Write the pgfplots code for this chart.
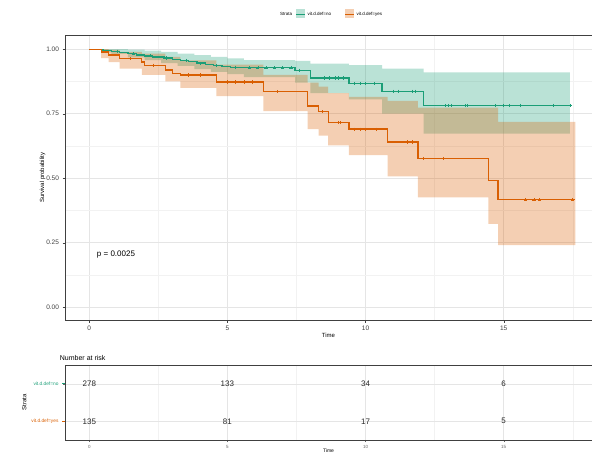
\documentclass[border=0pt]{standalone}
\usepackage{pgfplots}
\pgfplotsset{compat=1.18}
\usepgfplotslibrary{fillbetween}
\usepackage{fontspec}
\setmainfont{Liberation Sans}
\definecolor{cgreen}{HTML}{1B9E77}
\definecolor{corange}{HTML}{D95F02}
\begin{document}
\begin{tikzpicture}[x=1pt,y=1pt]
% ---------------- main survival panel ----------------
\begin{axis}[
  at={(65pt,136pt)}, anchor=south west,
  width=527pt, height=285pt, scale only axis,
  xmin=-0.88, xmax=18.2, ymin=-0.05, ymax=1.055,
  xtick={0,5,10,15}, xticklabels={0,5,10,15},
  ytick={0,0.25,0.5,0.75,1}, yticklabels={0.00,0.25,0.50,0.75,1.00},
  minor xtick={2.5,7.5,12.5,17.5},
  minor ytick={0.125,0.375,0.625,0.875},
  grid=both,
  major grid style={black!10, line width=0.4pt},
  minor grid style={black!5, line width=0.3pt},
  axis line style={black!75, line width=0.6pt},
  tick align=outside, xtick pos=left, ytick pos=left,
  major tick length=2.5pt, minor tick length=0pt,
  tick style={black!75},
  tick label style={font=\fontsize{6.5}{7}\selectfont, text=black!75},
  xlabel={Time}, ylabel={Survival probability},
  xlabel style={font=\fontsize{6}{7}\selectfont, yshift=4pt},
  ylabel style={font=\fontsize{6}{7}\selectfont, yshift=-6pt},
]
% bands
\addplot[const plot, draw=none, name path=gu] coordinates {
(0,1.0) (0.8,1.0) (1.4,0.998) (2.0,0.994) (2.6,0.99) (3.2,0.983) (3.8,0.977) (4.4,0.97) (5.0,0.964) (5.6,0.958) (7.45,0.955) (8.0,0.944) (9.4,0.938) (10.6,0.925) (12.1,0.91) (17.4,0.91)};
\addplot[const plot, draw=none, name path=gl] coordinates {
(0,1.0) (0.5,0.988) (0.8,0.982) (1.4,0.968) (2.0,0.958) (2.6,0.946) (3.2,0.935) (3.8,0.923) (4.4,0.912) (5.0,0.903) (5.6,0.892) (7.45,0.87) (8.0,0.83) (9.4,0.805) (10.6,0.75) (12.1,0.673) (17.4,0.673)};
\addplot[cgreen, fill opacity=0.3, draw=none] fill between[of=gu and gl];
\addplot[const plot, draw=none, name path=ou] coordinates {
(0,1.0) (0.43,1.0) (0.7,0.997) (1.1,0.99) (1.9,0.983) (2.75,0.97) (3.3,0.957) (4.6,0.94) (6.3,0.9) (7.9,0.87) (8.3,0.855) (8.65,0.83) (9.4,0.815) (10.8,0.8) (11.9,0.773) (14.45,0.773) (14.8,0.718) (17.6,0.718)};
\addplot[const plot, draw=none, name path=ol] coordinates {
(0,1.0) (0.43,0.965) (0.7,0.95) (1.1,0.925) (1.9,0.9) (2.75,0.875) (3.3,0.85) (4.6,0.818) (6.3,0.76) (7.9,0.69) (8.3,0.665) (8.65,0.627) (9.4,0.589) (10.8,0.507) (11.9,0.425) (14.45,0.323) (14.8,0.24) (17.6,0.24)};
\addplot[corange, fill opacity=0.3, draw=none] fill between[of=ou and ol];
% curves
\addplot[const plot, cgreen, line width=1.3pt] coordinates {
(0,1.0) (0.5,0.996) (0.8,0.992) (1.1,0.987) (1.4,0.982) (1.7,0.978) (2.0,0.974) (2.3,0.970) (2.7,0.966) (3.0,0.961) (3.3,0.956) (3.6,0.951) (3.9,0.946) (4.2,0.941) (4.5,0.937) (4.8,0.933) (5.1,0.930) (5.6,0.928) (7.45,0.918) (8.0,0.888) (9.4,0.867) (10.6,0.837) (12.1,0.782) (17.4,0.782)};
\addplot[const plot, corange, line width=1.3pt] coordinates {
(0,1.0) (0.43,0.989) (0.7,0.978) (1.1,0.963) (1.9,0.95) (2.0,0.938) (2.75,0.919) (3.0,0.906) (3.3,0.9) (4.6,0.873) (6.3,0.835) (7.9,0.78) (8.3,0.758) (8.65,0.716) (9.4,0.69) (10.8,0.64) (11.9,0.576) (14.45,0.49) (14.8,0.416) (17.6,0.416)};
% censoring marks
\addplot[only marks, mark=+, mark size=1.6pt, cgreen, line width=0.5pt] coordinates {
(1.0,0.992) (1.6,0.982) (2.2,0.974) (2.8,0.966) (3.5,0.956) (4.0,0.946) (4.6,0.937) (5.3,0.930) (5.8,0.928) (6.1,0.928) (6.4,0.928) (6.7,0.928) (7.0,0.928) (7.3,0.928) (7.6,0.918)
(8.5,0.888) (8.7,0.888) (8.9,0.888) (9.0,0.888) (9.2,0.888) (9.6,0.867) (9.8,0.867) (10.0,0.867) (10.3,0.867)
(11.0,0.837) (11.2,0.837) (11.7,0.837) (11.8,0.837) (12.9,0.782) (13.0,0.782) (13.1,0.782) (13.6,0.782) (13.7,0.782) (14.7,0.782) (15.0,0.782) (15.2,0.782) (15.6,0.782) (16.8,0.782) (17.4,0.782)};
\addplot[only marks, mark=+, mark size=1.6pt, corange, line width=0.5pt] coordinates {
(1.5,0.963) (2.3,0.938) (3.6,0.9) (4.0,0.9) (5.0,0.873) (5.3,0.873) (5.6,0.873) (5.9,0.873) (6.8,0.835) (8.45,0.758) (9.0,0.716) (9.1,0.716)
(9.6,0.69) (9.8,0.69) (10.0,0.69) (10.4,0.69) (11.5,0.64) (11.7,0.64) (12.1,0.576) (12.8,0.576) (15.8,0.416) (16.1,0.416) (16.3,0.416) (17.5,0.416)};
\node[anchor=west, font=\fontsize{8}{9}\selectfont] at (axis cs:0.15,0.205) {p = 0.0025};
\end{axis}
% ---------------- risk table ----------------
\begin{axis}[
  at={(65pt,16pt)}, anchor=south west,
  width=527pt, height=75pt, scale only axis,
  xmin=-0.88, xmax=18.2, ymin=0.5, ymax=2.5,
  xtick={0,5,10,15}, xticklabels={0,5,10,15},
  ytick={1,2},
  yticklabels={\textcolor{corange}{vit.d.def=yes},\textcolor{cgreen}{vit.d.def=no}},
  minor xtick={2.5,7.5,12.5,17.5},
  grid=both,
  major grid style={black!10, line width=0.4pt},
  minor grid style={black!5, line width=0.3pt},
  axis line style={black!75, line width=0.7pt},
  tick align=outside, xtick pos=left, ytick pos=left,
  major tick length=2pt, minor tick length=0pt,
  tick style={black!60},
  xticklabel style={font=\fontsize{4.5}{5}\selectfont, text=black!60},
  yticklabel style={font=\fontsize{4.8}{5}\selectfont, xshift=-1pt},
  xlabel={Time}, ylabel={Strata},
  xlabel style={font=\fontsize{5}{6}\selectfont, yshift=7pt},
  ylabel style={font=\fontsize{6}{7}\selectfont, yshift=-2pt},
  clip=false,
]
\addplot[only marks, mark=none, nodes near coords, point meta=explicit symbolic,
  every node near coord/.style={anchor=center, font=\fontsize{8}{9}\selectfont, text=black!85}]
 coordinates {
 (0,2) [278] (5,2) [133] (10,2) [34] (15,2) [6]
 (0,1) [135] (5,1) [81] (10,1) [17] (15,1) [5]};
\draw[cgreen, line width=0.6pt] (rel axis cs:0,0.75) -- ([xshift=-3pt]rel axis cs:0,0.75);
\draw[corange, line width=0.6pt] (rel axis cs:0,0.25) -- ([xshift=-3pt]rel axis cs:0,0.25);
\node[anchor=south west, font=\fontsize{7}{8}\selectfont, inner sep=0pt] at (rel axis cs:-0.01,1.06) {Number at risk};
\end{axis}
% ---------------- legend ----------------
\node[anchor=west, font=\fontsize{4.5}{5}\selectfont, inner sep=0pt] at (280,442) {Strata};
\fill[cgreen, fill opacity=0.3] (296,437.5) rectangle (305,446.5);
\draw[cgreen, line width=0.8pt] (296,442) -- (305,442);
\node[anchor=west, font=\fontsize{4.5}{5}\selectfont, inner sep=0pt] at (307.5,442) {vit.d.def=no};
\fill[corange, fill opacity=0.3] (345,437.5) rectangle (354,446.5);
\draw[corange, line width=0.8pt] (345,442) -- (354,442);
\node[anchor=west, font=\fontsize{4.5}{5}\selectfont, inner sep=0pt] at (356.5,442) {vit.d.def=yes};
\pgfresetboundingbox
\useasboundingbox (0,0) rectangle (592,456);
\end{tikzpicture}
\end{document}
